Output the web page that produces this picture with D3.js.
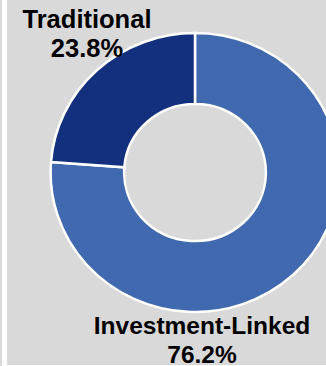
<!DOCTYPE html>
<html>
<head>
<meta charset="utf-8">
<script src="https://cdn.jsdelivr.net/npm/d3@7"></script>
<style>
  html, body { margin: 0; padding: 0; background: #ffffff; }
  svg { display: block; }
  text { font-family: "Liberation Sans", Arial, sans-serif; font-weight: bold; fill: #000; }
</style>
</head>
<body>
<svg id="chart" width="326" height="366"></svg>
<script>
// Policy mix by product type (share of total, %)
const categories = ["Investment-Linked", "Traditional"];
const shares = [76.2, 23.8];
const colors = ["#4169b0", "#12307e"];

const W = 326, H = 366;
const svg = d3.select("#chart");

// panel background with a thin frame strip on the left
svg.append("rect").attr("x", 0).attr("y", 0).attr("width", 2).attr("height", H).attr("fill", "#d9d9d9");
svg.append("rect").attr("x", 7).attr("y", 0).attr("width", W - 7).attr("height", H - 1).attr("fill", "#d9d9d9");

const cx = 195, cy = 172.5;
const outerR = 139.5, innerR = 68.5;
const sx = 1.035; // slight horizontal stretch of the plot area

const pie = d3.pie().sort(null).value(d => d.v).startAngle(0).endAngle(2 * Math.PI);
const arcs = pie(categories.map((c, i) => ({ c, v: shares[i], color: colors[i] })));
const arc = d3.arc().innerRadius(innerR).outerRadius(outerR);

const g = svg.append("g").attr("transform", `translate(${cx},${cy}) scale(${sx},1)`);
g.selectAll("path")
  .data(arcs)
  .join("path")
  .attr("d", arc)
  .attr("fill", d => d.data.color)
  .attr("stroke", "#ffffff")
  .attr("stroke-width", 2.5)
  .attr("vector-effect", "non-scaling-stroke");

// data labels
const fmt = v => d3.format(".1f")(v) + "%";
const labels = [
  { name: categories[1], value: shares[1], x: 87, y: 28, size: 25.5 },
  { name: categories[0], value: shares[0], x: 202, y: 334, size: 24.5 }
];
labels.forEach(l => {
  svg.append("text").attr("x", l.x).attr("y", l.y).attr("text-anchor", "middle")
    .attr("font-size", l.size).text(l.name);
  svg.append("text").attr("x", l.x).attr("y", l.y + 29).attr("text-anchor", "middle")
    .attr("font-size", l.size).text(fmt(l.value));
});
</script>
</body>
</html>
